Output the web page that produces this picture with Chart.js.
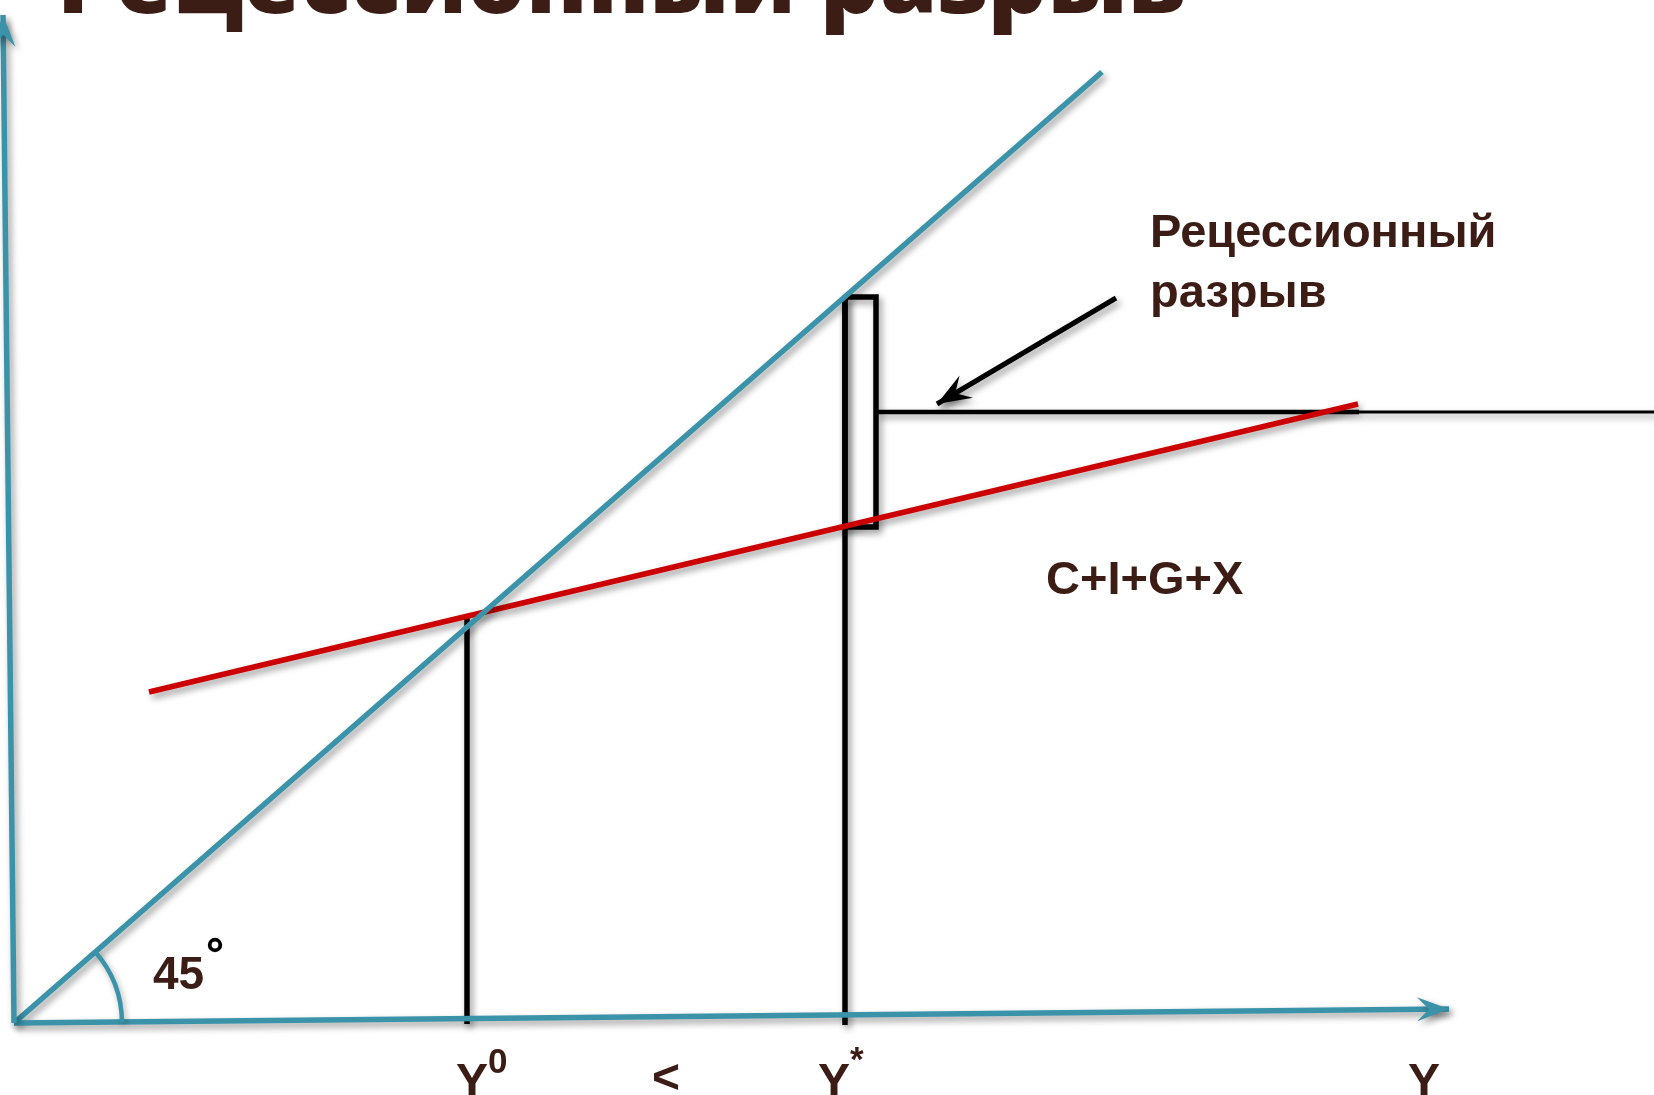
<!DOCTYPE html>
<html lang="ru">
<head>
<meta charset="utf-8">
<title>Рецессионный разрыв</title>
<script src="https://cdn.jsdelivr.net/npm/chart.js@4.4.1/dist/chart.umd.min.js"></script>
<style>
  html, body { margin: 0; padding: 0; background: #ffffff; overflow: hidden; }
  #gap-chart { display: block; }
</style>
</head>
<body>
<canvas id="gap-chart" width="1654" height="1095"></canvas>
<script>
// diagram units: 1 unit ~ 1 px, origin at the corner of the two axes
const yAxisLine = [{ x: 0, y: 0 }, { x: -11, y: 1008 }];
const xAxisLine = [{ x: 0, y: 0 }, { x: 1435, y: 14 }];
const diagonal45 = [{ x: 0, y: 0 }, { x: 1088, y: 951 }];
const spendingLine = [{ x: 135, y: 331 }, { x: 1344, y: 619 }]; // C+I+G+X
const y0Line = [{ x: 453, y: -1 }, { x: 453, y: 405 }];
const yStarLine = [{ x: 831, y: -2 }, { x: 831, y: 726 }];
const gapBox = [
  { x: 831, y: 726 }, { x: 862, y: 726 }, { x: 862, y: 496 },
  { x: 831, y: 496 }, { x: 831, y: 726 }
];
const gapLevelThick = [{ x: 862, y: 611 }, { x: 1345, y: 611 }];
const gapLevelThin = [{ x: 1345, y: 611 }, { x: 1640, y: 611 }];
const pointerLine = [{ x: 1102, y: 725 }, { x: 923, y: 619 }];

const angleArcRadius = 108;
const degreeRing = { x: 201, y: 78 };

const titleText = 'Рецессионный разрыв';
const gapLabel = ['Рецессионный', 'разрыв'];
const curveLabel = 'C+I+G+X';
const angleLabel = '45';
const tickLabels = ['Y', '<', 'Y', 'Y'];
const tickMarks = ['0', '', '*', ''];

const TEAL = '#3a93a9';
const RED = '#cc0000';
const INK = '#3b1d16';
const SANS = '"Liberation Sans", Arial, sans-serif';

function lineSet(data, color, width, extra) {
  return Object.assign({
    data,
    showLine: true,
    borderColor: color,
    backgroundColor: color,
    borderWidth: width,
    pointRadius: 0,
    pointHoverRadius: 0,
    fill: false,
    tension: 0,
    borderCapStyle: 'butt',
    borderJoinStyle: 'miter',
  }, extra || {});
}

// text placed by its ink box: left edge and baseline in diagram units
function inkText(ctx, chart, text, x, y, size, weight, family, color) {
  const px = chart.scales.x.getPixelForValue(x);
  const py = chart.scales.y.getPixelForValue(y);
  ctx.font = `${weight} ${size}px ${family}`;
  ctx.fillStyle = color;
  ctx.textAlign = 'left';
  ctx.textBaseline = 'alphabetic';
  const m = ctx.measureText(text);
  ctx.fillText(text, px + m.actualBoundingBoxLeft, py);
}

function drawArrowHead(ctx, from, to, len, half, color) {
  const ang = Math.atan2(to.y - from.y, to.x - from.x);
  ctx.save();
  ctx.translate(to.x, to.y);
  ctx.rotate(ang);
  ctx.beginPath();
  ctx.moveTo(0, 0);
  ctx.lineTo(-len, -half);
  ctx.lineTo(-len * 0.62, 0);
  ctx.lineTo(-len, half);
  ctx.closePath();
  ctx.fillStyle = color;
  ctx.fill();
  ctx.restore();
}

const shadowPlugin = {
  id: 'softShadow',
  beforeDatasetDraw(chart) {
    const ctx = chart.ctx;
    ctx.save();
    ctx.shadowColor = 'rgba(0,0,0,0.4)';
    ctx.shadowBlur = 7;
    ctx.shadowOffsetX = 3;
    ctx.shadowOffsetY = 4;
  },
  afterDatasetDraw(chart, args) {
    const ctx = chart.ctx;
    const ds = chart.data.datasets[args.index];
    if (ds.arrowHead) {
      const pts = args.meta.data;
      const a = pts[pts.length - 2];
      const b = pts[pts.length - 1];
      drawArrowHead(ctx, { x: a.x, y: a.y }, { x: b.x, y: b.y },
        ds.arrowHead.len, ds.arrowHead.half, ds.borderColor);
    }
    ctx.restore();
  }
};

const decorPlugin = {
  id: 'decor',
  afterDatasetsDraw(chart) {
    const ctx = chart.ctx;
    const xs = chart.scales.x;
    const ys = chart.scales.y;
    const ox = xs.getPixelForValue(0);
    const oy = ys.getPixelForValue(0);
    const r = xs.getPixelForValue(angleArcRadius) - ox;
    const d = diagonal45[1];
    const a = xAxisLine[1];
    const a0 = Math.atan2(ys.getPixelForValue(d.y) - oy, xs.getPixelForValue(d.x) - ox);
    const a1 = Math.atan2(ys.getPixelForValue(a.y) - oy, xs.getPixelForValue(a.x) - ox);

    ctx.save();
    ctx.shadowColor = 'rgba(0,0,0,0.3)';
    ctx.shadowBlur = 6;
    ctx.shadowOffsetX = 2;
    ctx.shadowOffsetY = 3;
    ctx.beginPath();
    ctx.arc(ox, oy, r, a0, a1, false);
    ctx.strokeStyle = TEAL;
    ctx.lineWidth = 4.5;
    ctx.stroke();
    ctx.restore();

    // degree sign
    ctx.save();
    ctx.beginPath();
    ctx.arc(xs.getPixelForValue(degreeRing.x), ys.getPixelForValue(degreeRing.y), 5.3, 0, Math.PI * 2);
    ctx.strokeStyle = '#000000';
    ctx.lineWidth = 3.8;
    ctx.stroke();
    ctx.restore();
  },
  afterDraw(chart) {
    const ctx = chart.ctx;
    ctx.save();

    // title, cut by the top edge like in the slide
    const titleFamily = '"Open Sans", "DejaVu Sans", sans-serif';
    ctx.font = `800 100px ${titleFamily}`;
    const tm = ctx.measureText(titleText);
    const tw = tm.actualBoundingBoxLeft + tm.actualBoundingBoxRight;
    const titleSize = 100 * 1120 / tw;
    inkText(ctx, chart, titleText, 50, 1010, titleSize, 800, titleFamily, INK);

    inkText(ctx, chart, gapLabel[0], 1139, 776, 47, 'bold', SANS, INK);
    inkText(ctx, chart, gapLabel[1], 1139, 716, 47, 'bold', SANS, INK);
    inkText(ctx, chart, curveLabel, 1033, 429, 47, 'bold', SANS, INK);
    inkText(ctx, chart, angleLabel, 139, 34, 46, 'bold', SANS, INK);

    const tickX = [442, 640, 804, 1394];
    const markX = [475, 0, 836, 0];
    const markY = [-50, 0, -48, 0];
    tickLabels.forEach((t, i) => {
      inkText(ctx, chart, t, tickX[i], i === 1 ? -70 : -74, 48, 'bold', SANS, INK);
      if (tickMarks[i]) {
        inkText(ctx, chart, tickMarks[i], markX[i], markY[i], 35, 'bold', SANS, INK);
      }
    });

    ctx.restore();
  }
};

new Chart(document.getElementById('gap-chart'), {
  type: 'scatter',
  data: {
    datasets: [
      lineSet(yAxisLine, TEAL, 5.5, { arrowHead: { len: 32, half: 12 } }),
      lineSet(xAxisLine, TEAL, 5.5, { arrowHead: { len: 32, half: 12 } }),
      lineSet(diagonal45, TEAL, 5.5),
      lineSet(spendingLine, RED, 5.5),
      lineSet(y0Line, '#000000', 5.5),
      lineSet(yStarLine, '#000000', 5.5),
      lineSet(gapBox, '#000000', 5.5),
      lineSet(gapLevelThick, '#000000', 4.5),
      lineSet(gapLevelThin, '#000000', 2.8),
      lineSet(pointerLine, '#000000', 5, { arrowHead: { len: 34, half: 13 } }),
    ]
  },
  options: {
    responsive: false,
    animation: false,
    devicePixelRatio: 1,
    layout: { padding: 0 },
    plugins: {
      legend: { display: false },
      tooltip: { enabled: false },
    },
    scales: {
      x: { type: 'linear', display: false, min: -14, max: 1640 },
      y: { type: 'linear', display: false, min: -72, max: 1023 },
    },
    clip: false,
  },
  plugins: [shadowPlugin, decorPlugin],
});
</script>
</body>
</html>
